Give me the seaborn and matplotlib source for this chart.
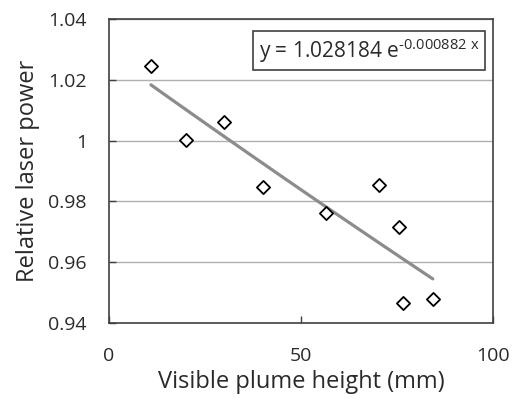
import matplotlib
matplotlib.use("Agg")
import matplotlib.pyplot as plt
import seaborn as sns
import numpy as np
import pandas as pd

# Data
plume_height = [10.9, 20.1, 30.0, 40.1, 56.5, 70.4, 75.6, 76.5, 84.3]
laser_power = [1.0246, 1.0002, 1.0062, 0.9847, 0.9762, 0.9853, 0.9715, 0.9465, 0.9478]
fit_a = 1.028184
fit_b = -0.000882
x_ticks = [0, 50, 100]
y_ticks = [0.94, 0.96, 0.98, 1.0, 1.02, 1.04]
y_tick_labels = ["0.94", "0.96", "0.98", "1", "1.02", "1.04"]

sns.set_theme(style="white")
plt.rcParams['font.family'] = ['Open Sans', 'DejaVu Sans']
plt.rcParams['mathtext.default'] = 'regular'

df = pd.DataFrame({"x": plume_height, "y": laser_power})

fig = plt.figure(figsize=(5.12, 4.13), dpi=100)
ax = fig.add_axes([0.213, 0.218, 0.750, 0.736])

# trendline from fitted parameters
xs = np.linspace(min(plume_height), max(plume_height), 100)
trend = pd.DataFrame({"x": xs, "y": fit_a * np.exp(fit_b * xs)})
sns.lineplot(data=trend, x="x", y="y", ax=ax, color="#8c8c8c", linewidth=2.3, zorder=2)

sns.scatterplot(data=df, x="x", y="y", ax=ax, marker="D", s=45,
                facecolor="white", edgecolor="black", linewidth=1.3, zorder=3)

ax.set_xlim(0, 100)
ax.set_ylim(0.94, 1.04)
ax.set_xticks(x_ticks)
ax.set_yticks(y_ticks)
ax.set_yticklabels(y_tick_labels)
ax.yaxis.grid(True, color="#b0b0b0", linewidth=1.0)
ax.set_axisbelow(True)
ax.tick_params(axis="both", direction="in", length=5, width=1, colors="#404040",
               labelsize=14, labelcolor="#2a2a2a", left=True, bottom=True)
ax.tick_params(axis="y", pad=16)
ax.tick_params(axis="x", pad=17)
for sp in ax.spines.values():
    sp.set_color("#404040")
    sp.set_linewidth(1.2)

ax.set_xlabel("Visible plume height (mm)", fontsize=17, color="#2a2a2a", labelpad=4)
ax.set_ylabel("Relative laser power", fontsize=17, color="#2a2a2a", labelpad=6)

ax.text(0.965, 0.895, "y = 1.028184 e$^{\u20100.000882\\ x}$", transform=ax.transAxes,
        ha="right", va="center", fontsize=15, color="#2a2a2a",
        bbox=dict(boxstyle="square,pad=0.25", facecolor="white", edgecolor="#404040", linewidth=1.2))

fig.savefig("out.png", dpi=100)
